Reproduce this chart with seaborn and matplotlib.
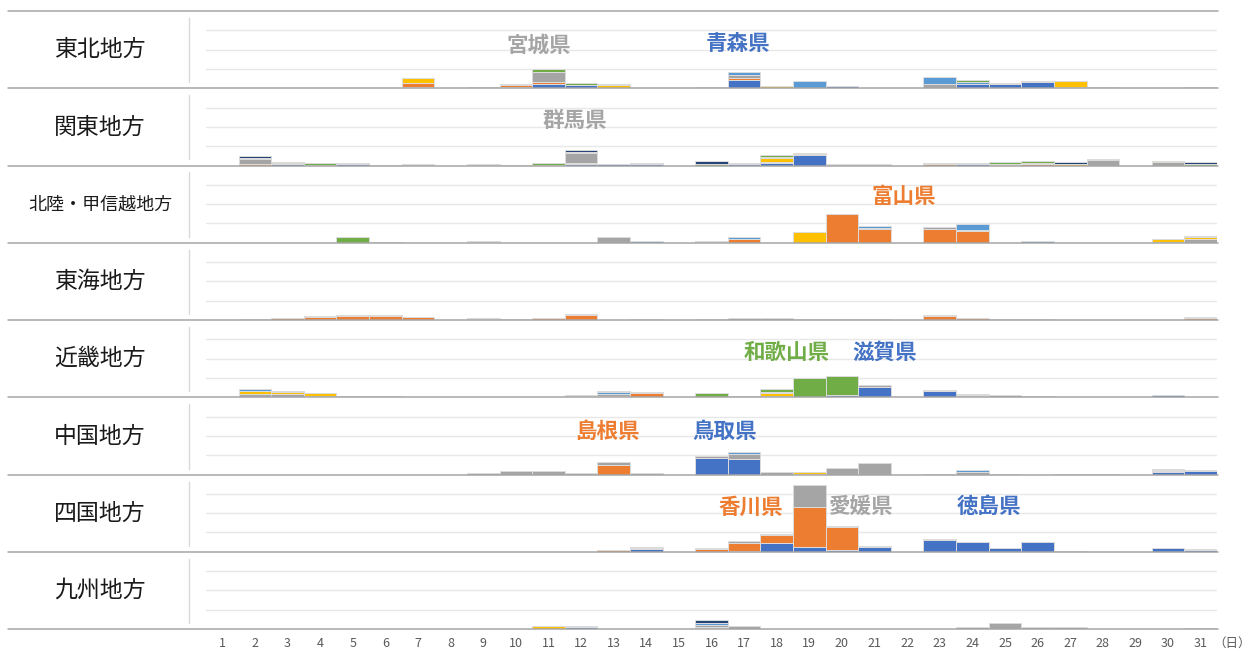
import matplotlib
matplotlib.use("Agg")
import matplotlib.pyplot as plt
from matplotlib.lines import Line2D
import pandas as pd
import seaborn as sns

# ---- data (one gridline step = 10) ----
days = list(range(1, 32))
regions = ["東北地方", "関東地方", "北陸・甲信越地方", "東海地方",
           "近畿地方", "中国地方", "四国地方", "九州地方"]

# Excel "Office" series colours, in prefecture order within each region
office_colors = ["#4472C4", "#ED7D31", "#A5A5A5", "#FFC000",
                 "#5B9BD5", "#70AD47", "#264478", "#9E480E"]

tohoku = {
    "青森県": {7: 0.5, 9: 0.7, 10: 0.5, 11: 2.2, 12: 1.6, 13: 0.3, 17: 4.3, 20: 1.0,
             24: 2.4, 25: 2.1, 26: 3.1, 27: 0.7},
    "岩手県": {7: 2.4, 10: 1.2, 11: 1.2, 17: 0.9, 25: 0.5, 26: 0.4},
    "宮城県": {10: 0.7, 11: 5.0, 14: 0.3, 17: 1.7, 23: 2.1, 31: 0.5},
    "秋田県": {7: 2.6, 13: 1.2, 18: 1.4, 27: 2.8, 28: 0.5},
    "山形県": {17: 1.7, 19: 3.8, 23: 3.5, 24: 0.8},
    "福島県": {11: 1.6, 12: 1.2, 13: 0.7, 16: 0.8, 24: 0.9},
}
kanto = {
    "茨城県": {3: 0.7, 5: 0.6, 6: 0.5, 12: 0.6, 13: 0.7, 14: 0.8, 17: 0.8, 18: 1.2,
             19: 5.2, 20: 0.5, 24: 1.0, 25: 0.5},
    "栃木県": {2: 1.0, 10: 0.4, 12: 0.9, 18: 0.7, 19: 0.6, 20: 0.5, 21: 0.3, 23: 0.6, 26: 1.0},
    "群馬県": {2: 2.6, 4: 0.5, 9: 0.5, 11: 0.5, 12: 4.9, 21: 0.3, 25: 0.5, 26: 0.4,
             28: 2.6, 30: 1.8},
    "埼玉県": {3: 0.5, 18: 2.2, 19: 0.8, 27: 1.0, 28: 1.0, 30: 0.6},
    "千葉県": {2: 0.5, 7: 0.4, 18: 0.5, 24: 0.5},
    "東京都": {4: 0.8, 7: 0.6, 9: 0.3, 11: 1.0, 12: 0.5, 16: 0.8, 18: 1.0, 25: 1.0,
             26: 0.7, 31: 0.6},
    "神奈川県": {2: 0.7, 3: 0.7, 5: 0.6, 12: 1.0, 14: 0.7, 16: 1.4, 17: 0.7, 23: 0.6,
              27: 0.7, 31: 1.1},
}
hokuriku = {
    "新潟県": {16: 0.5},
    "富山県": {17: 1.7, 20: 14.8, 21: 7.3, 23: 7.0, 24: 6.3},
    "石川県": {6: 0.3, 9: 0.4, 13: 3.0, 17: 0.4, 21: 0.5, 23: 0.9, 24: 0.5, 30: 0.5, 31: 2.1},
    "福井県": {19: 5.6, 30: 1.7, 31: 0.9},
    "山梨県": {14: 0.7, 16: 0.3, 17: 0.9, 21: 1.0, 24: 2.8, 26: 1.0, 31: 0.6},
    "長野県": {5: 3.0, 9: 0.3},
}
tokai = {
    "岐阜県": {},
    "静岡県": {3: 0.9, 4: 1.6, 5: 2.3, 6: 2.3, 7: 1.4, 9: 0.6, 10: 0.7, 11: 1.2, 12: 2.6,
             23: 2.3, 24: 0.9, 31: 0.8},
    "愛知県": {2: 0.3, 3: 0.3, 4: 0.5, 5: 0.5, 6: 0.5, 7: 0.3, 9: 0.4, 12: 0.5, 14: 0.7,
             16: 0.7, 17: 0.9, 18: 1.2, 19: 0.5, 20: 0.7, 21: 0.5, 23: 0.5, 24: 0.3,
             25: 0.3, 26: 0.5, 31: 0.8},
}
kinki = {
    "滋賀県": {20: 1.2, 21: 5.4, 23: 3.3, 24: 0.5, 30: 1.0},
    "京都府": {13: 0.7, 14: 2.3},
    "大阪府": {2: 1.7, 3: 1.8, 4: 0.8, 5: 0.9, 6: 0.5, 9: 0.3, 11: 0.3, 12: 0.5, 13: 0.9,
             14: 0.5, 16: 0.3, 18: 0.7, 21: 1.0, 23: 0.7, 24: 0.5, 25: 1.4, 26: 0.5,
             27: 0.3, 30: 0.3, 31: 0.3},
    "兵庫県": {2: 1.4, 3: 1.0, 4: 1.5, 18: 1.7},
    "奈良県": {2: 1.0, 3: 0.6, 13: 0.9, 18: 0.5, 24: 0.5},
    "和歌山県": {12: 0.7, 13: 0.9, 16: 1.9, 17: 0.5, 18: 1.4, 19: 10.2, 20: 9.7},
}
chugoku = {
    "鳥取県": {16: 8.5, 17: 7.8, 30: 1.2, 31: 1.6},
    "島根県": {13: 4.9, 30: 0.7},
    "岡山県": {9: 0.7, 10: 1.7, 11: 1.7, 12: 1.0, 13: 1.7, 14: 0.9, 16: 1.2, 17: 3.0,
             18: 1.2, 19: 0.5, 20: 3.3, 21: 5.9, 23: 0.5, 24: 1.4, 28: 0.4, 30: 0.5},
    "広島県": {19: 0.9},
    "山口県": {17: 0.6, 24: 0.7, 25: 0.5, 27: 0.5, 30: 0.7, 31: 0.7},
}
shikoku = {
    "徳島県": {14: 1.4, 17: 0.5, 18: 4.3, 19: 2.4, 20: 1.0, 21: 2.6, 23: 5.9, 24: 5.0,
             25: 1.7, 26: 4.9, 30: 1.7, 31: 0.9},
    "香川県": {13: 0.7, 14: 0.7, 16: 1.4, 17: 4.0, 18: 4.5, 19: 21.0, 20: 11.8},
    "愛媛県": {13: 0.3, 14: 0.5, 16: 0.3, 17: 1.2, 18: 0.3, 19: 11.4, 20: 0.4, 21: 0.5,
             23: 0.7, 27: 0.3, 31: 0.7},
}
kyushu = {
    "福岡県": {12: 0.9, 16: 0.3},
    "佐賀県": {16: 0.7},
    "長崎県": {12: 0.7, 16: 0.9, 17: 1.4, 24: 1.2, 25: 3.3, 26: 0.9, 27: 1.2, 31: 0.4},
    "熊本県": {11: 1.4},
    "大分県": {16: 1.4},
    "宮崎県": {},
    "鹿児島県": {16: 1.5},
}
region_data = [tohoku, kanto, hokuriku, tokai, kinki, chugoku, shikoku, kyushu]

# highlighted prefectures: (row, label, colour, x in days, y in values)
callouts = [
    (0, "宮城県", "#A5A5A5", 10.7, 22.3),
    (0, "青森県", "#4472C4", 16.8, 23.3),
    (1, "群馬県", "#A5A5A5", 11.8, 23.3),
    (2, "富山県", "#ED7D31", 21.9, 23.8),
    (4, "和歌山県", "#70AD47", 18.3, 23.3),
    (4, "滋賀県", "#4472C4", 21.3, 23.3),
    (5, "島根県", "#ED7D31", 12.8, 22.3),
    (5, "鳥取県", "#4472C4", 16.4, 22.3),
    (6, "香川県", "#ED7D31", 17.2, 23.3),
    (6, "愛媛県", "#A5A5A5", 20.6, 23.3),
    (6, "徳島県", "#4472C4", 24.5, 23.3),
]

# ---- drawing ----
sns.set_style("white")
plt.rcParams["font.family"] = ["Noto Sans CJK JP", "DejaVu Sans"]

W, H = 1260, 653
fig = plt.figure(figsize=(W / 100, H / 100), dpi=100)

row_top = 11
row_h = (629 - 11) / 8
ax_left, ax_right = 206, 1217

for i, (name, data) in enumerate(zip(regions, region_data)):
    top = row_top + i * row_h
    base = top + row_h
    ax = fig.add_axes([ax_left / W, 1 - base / H, (ax_right - ax_left) / W, row_h / H])

    prefs = list(data.keys())
    palette = dict(zip(prefs, office_colors))
    records = [(p, d, v) for p, vals in data.items() for d, v in vals.items()]
    df = pd.DataFrame(records, columns=["pref", "day", "value"])
    present = [p for p in prefs if p in set(df["pref"])]

    # seaborn stacks the last hue level at the bottom
    sns.histplot(df, x="day", weights="value", hue="pref", hue_order=present[::-1],
                 palette=palette, multiple="stack", discrete=True, shrink=1,
                 alpha=1, edgecolor="#dcdcdc", linewidth=0.7, legend=False, ax=ax)
    # empty bins still get a flat patch, drop them
    for patch in list(ax.patches):
        if patch.get_height() <= 0:
            patch.remove()

    ax.set_xlim(0.5, 31.5)
    ax.set_ylim(0, 40)
    ax.set_yticks([10, 20, 30])
    ax.yaxis.grid(True, color="#e8e8e8", linewidth=1)
    ax.set_axisbelow(True)
    ax.set_xlabel("")
    ax.set_ylabel("")
    ax.tick_params(axis="y", left=False, labelleft=False)
    for s in ax.spines.values():
        s.set_visible(False)
    ax.set_xticks(days)
    if i == len(regions) - 1:
        ax.tick_params(axis="x", length=0, pad=6, labelsize=9, labelcolor="#595959")
    else:
        ax.tick_params(axis="x", length=0, labelbottom=False)

    for r, label, color, x, y in callouts:
        if r == i:
            ax.text(x, y, label, color=color, fontsize=15.5, fontweight="bold",
                    ha="center", va="center")

    fig.text(100 / W, 1 - (top + row_h / 2) / H, name,
             fontsize=13 if len(name) > 4 else 16.5, color="#1a1a1a",
             ha="center", va="center")
    fig.add_artist(Line2D([189 / W, 189 / W], [1 - (top + 7) / H, 1 - (base - 6) / H],
                          color="#d9d9d9", linewidth=1))

for k in range(len(regions) + 1):
    y = 1 - (row_top + k * row_h) / H
    fig.add_artist(Line2D([8 / W, 1218 / W], [y, y], color="#a6a6a6", linewidth=1.1))

fig.text(1232 / W, 1 - 643 / H, "（日）", fontsize=9, color="#595959",
         ha="center", va="center")

fig.savefig("out.png", dpi=100)
